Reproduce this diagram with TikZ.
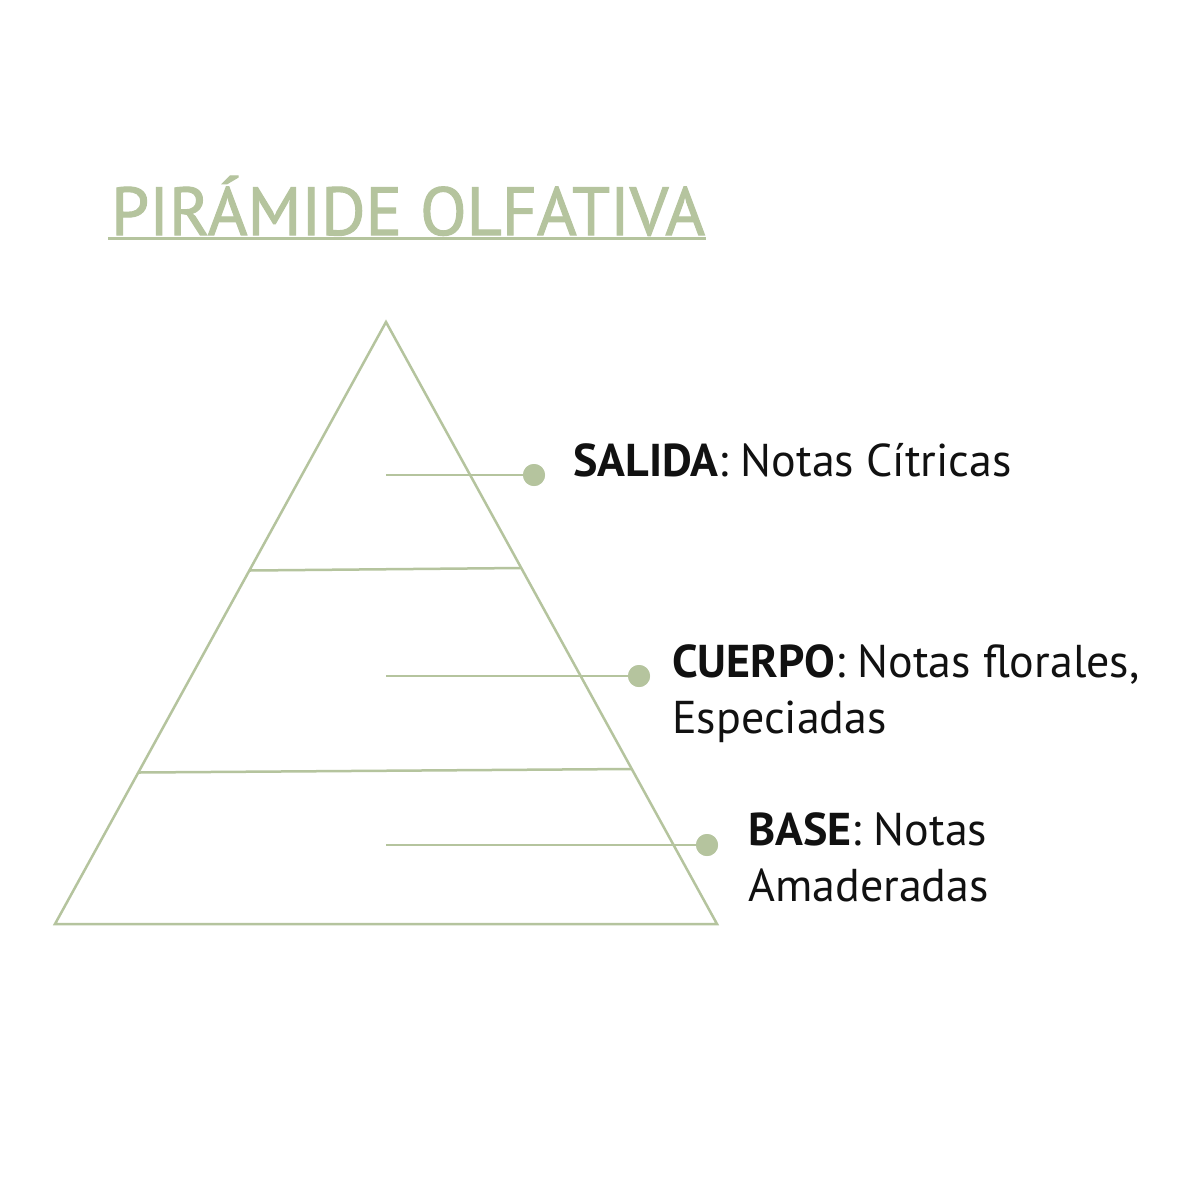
\documentclass[tikz,border=0pt]{standalone}
\usepackage{fontspec}
\setmainfont{PT Sans}
\newfontfamily\titlefont[FakeBold=1.5]{PT Sans}
\definecolor{sage}{HTML}{B5C49E}
\definecolor{ink}{HTML}{111111}
\begin{document}
\begin{tikzpicture}[x=1pt,y=-1pt,
  pyr/.style={draw=sage,line width=2.5pt},
  leader/.style={draw=sage,line width=2.5pt},
  dotmark/.style={circle,fill=sage,inner sep=0pt,minimum size=22pt},
  lbl/.style={anchor=base west,inner sep=0pt,text=ink,font=\fontsize{46}{56}\selectfont},
  ttl/.style={anchor=base west,inner sep=0pt,text=sage,font=\titlefont\fontsize{68}{80}\selectfont}]
\useasboundingbox[fill=white] (0,0) rectangle (1200,1200);
% title
\node[ttl] (title) at (111,235) {PIRÁMIDE OLFATIVA};
\coordinate (ul1) at (108,238.5);
\coordinate (ul2) at (706,238.5);
\draw[draw=sage,line width=3.5pt] (ul1) -- (ul2);
% pyramid
\coordinate (apex) at (386,322);
\coordinate (bl) at (55,924);
\coordinate (br) at (717,924);
\draw[pyr,line join=miter] (apex) -- (br) -- (bl) -- cycle;
\coordinate (d1l) at (250,570.5);
\coordinate (d1r) at (520.5,568);
\coordinate (d2l) at (139,772.5);
\coordinate (d2r) at (631,769);
\draw[pyr] (d1l) -- (d1r);
\draw[pyr] (d2l) -- (d2r);
% leaders
\coordinate (s1) at (386,475);
\coordinate (s2) at (386,676);
\coordinate (s3) at (386,845);
\node[dotmark] (p1) at (534,475) {};
\node[dotmark] (p2) at (639,676) {};
\node[dotmark] (p3) at (707,845) {};
\draw[leader] (s1) -- (p1.center);
\draw[leader] (s2) -- (p2.center);
\draw[leader] (s3) -- (p3.center);
\node[dotmark] at (p1) {};
\node[dotmark] at (p2) {};
\node[dotmark] at (p3) {};
% labels
\node[lbl] (t1) at (573,476) {\textbf{SALIDA}: Notas Cítricas};
\node[lbl] (t2) at (672,677) {\textbf{CUERPO}: Notas florales,};
\node[lbl] (t2b) at (672,733) {Especiadas};
\node[lbl] (t3) at (748,845) {\textbf{BASE}: Notas};
\node[lbl] (t3b) at (748,901) {Amaderadas};
\end{tikzpicture}
\end{document}
